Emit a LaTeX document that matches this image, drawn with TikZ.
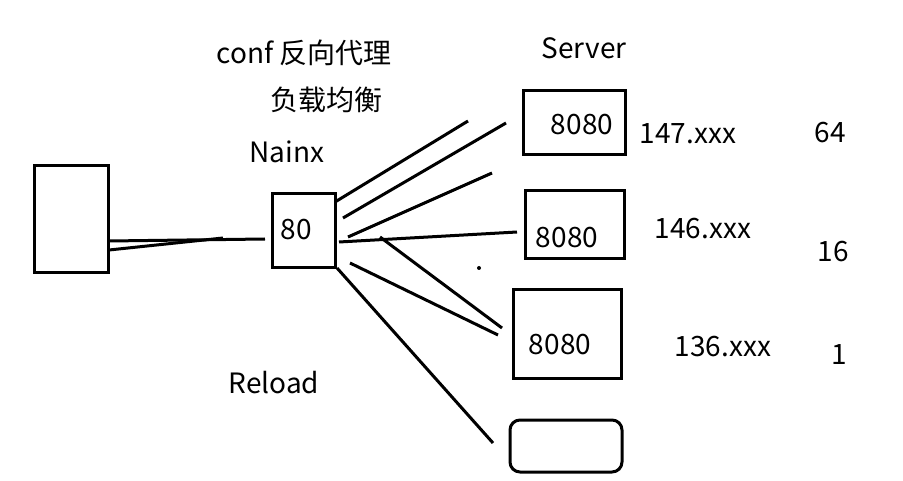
\documentclass[tikz,border=0pt]{standalone}
\usepackage{fontspec}
\setmainfont{Noto Sans CJK SC}
\begin{document}
\begin{tikzpicture}[x=1pt,y=-1pt,
  box/.style={draw, line width=3pt, inner sep=0pt},
  txt/.style={inner sep=0pt, font=\fontsize{28}{30}\selectfont},
  wire/.style={line width=3pt}]
\useasboundingbox (0,0) rectangle (903,481);
% boxes
\node[box, minimum width=74pt, minimum height=107pt] (client) at (71,219.5) {};
\node[box, minimum width=63pt, minimum height=74pt] (nginx) at (303.5,231) {};
\node[box, minimum width=102pt, minimum height=64pt] (s1) at (574,123) {};
\node[box, minimum width=99pt, minimum height=68pt] (s2) at (574.5,225) {};
\node[box, minimum width=108pt, minimum height=88pt] (s3) at (567,334) {};
\node[box, rounded corners=10pt, minimum width=112pt, minimum height=52pt] (s4) at (566,446) {};
% texts
\node[txt] (t1) at (304,53) {conf 反向代理};
\node[txt] (t2) at (326,100) {负载均衡};
\node[txt] (t3) at (287,152) {Nainx};
\node[txt] (t4) at (584,48) {Server};
\node[txt] (t5) at (274,383) {Reload};
\node[txt] (p0) at (296.5,230) {80};
\node[txt] (p1) at (582,125) {8080};
\node[txt] (p2) at (567,238) {8080};
\node[txt] (p3) at (560,345) {8080};
\node[txt] (a1) at (688,134) {147.xxx};
\node[txt] (a2) at (703,229) {146.xxx};
\node[txt] (a3) at (723,347) {136.xxx};
\node[txt] (w1) at (830,132.5) {64};
\node[txt] (w2) at (833,252) {16};
\node[txt] (w3) at (839,355) {1};
% free line ends
\coordinate (c1) at (109,241);
\coordinate (c2) at (265,239);
\coordinate (c3) at (109,250);
\coordinate (c4) at (223,238);
\coordinate (n1a) at (335,202); \coordinate (n1b) at (468,121);
\coordinate (n2a) at (343,218); \coordinate (n2b) at (506,123);
\coordinate (n3a) at (348,237); \coordinate (n3b) at (492,173);
\coordinate (n4a) at (339,242); \coordinate (n4b) at (517,232);
\coordinate (n5a) at (380,237); \coordinate (n5b) at (502,328);
\coordinate (n6a) at (350,263); \coordinate (n6b) at (498,335);
\coordinate (n7a) at (337,268); \coordinate (n7b) at (493,443);
\draw[wire] (c1) -- (c2);
\draw[wire] (c3) -- (c4);
\draw[wire] (n1a) -- (n1b);
\draw[wire] (n2a) -- (n2b);
\draw[wire] (n3a) -- (n3b);
\draw[wire] (n4a) -- (n4b);
\draw[wire] (n5a) -- (n5b);
\draw[wire] (n6a) -- (n6b);
\draw[wire] (n7a) -- (n7b);
\fill (479,268) circle (2pt);
\end{tikzpicture}
\end{document}
